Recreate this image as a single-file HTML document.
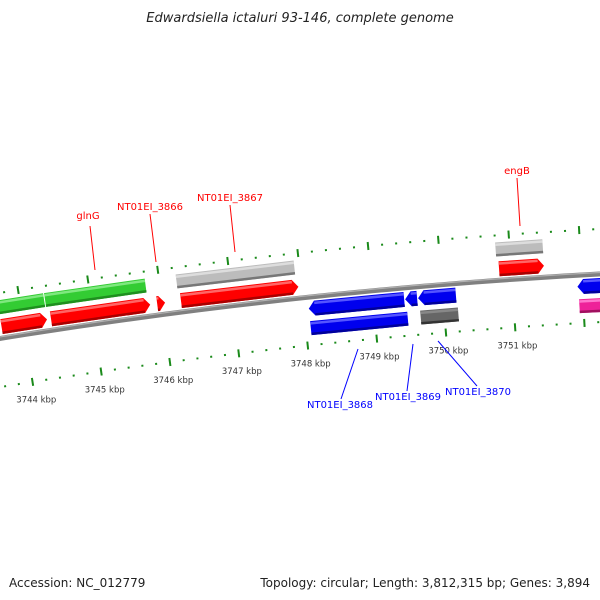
<!DOCTYPE html>
<html><head><meta charset="utf-8"><style>
html,body{margin:0;padding:0;background:#fff;}
svg{display:block;}
text{font-family:"DejaVu Sans","Liberation Sans",sans-serif;}
</style></head><body>
<svg id="map" width="600" height="600" viewBox="0 0 600 600" xmlns="http://www.w3.org/2000/svg">
<text x="300" y="22" text-anchor="middle" font-size="13" font-style="italic" fill="#222">Edwardsiella ictaluri 93-146, complete genome</text>
<text x="9" y="587" font-size="12" fill="#222">Accession: NC_012779</text>
<text x="590" y="587" text-anchor="end" font-size="12" fill="#222">Topology: circular; Length: 3,812,315 bp; Genes: 3,894</text>
<g id="ticks"></g><g id="feats"></g><g id="labels"></g>
</svg>
<script>
// data (kbp)
const tickStarts = [3743.6];
const tickEnd = 3752.4;
const tickLabelKbp = [3744,3745,3746,3747,3748,3749,3750,3751];
// features: [start, end, track, color, arrow]
const featStarts = [3743.686,3744.357,3743.686,3744.4,3745.929,3746.243,3746.271,3750.8,3750.829,3748.071,3748.071,3749.457,3749.643,3749.657,3751.93,3751.943];
const featEnds   = [3744.343,3745.8,3744.343,3745.829,3746.043,3747.929,3747.957,3751.471,3751.471,3749.443,3749.471,3749.629,3750.186,3750.2,3752.5,3752.5];
const featTracks = ['cdsF','cdsF','geneF','geneF','geneF','cdsF','geneF','cdsF','geneF','geneR','cdsR','geneR','geneR','cdsR','geneR','cdsR'];
const featColors = ['green','green','red','red','red','gray','red','gray','red','blue','blue','blue','blue','dgray','blue','magenta'];
const featArrows = [0,0,1,1,1,0,1,0,1,-1,0,-1,-1,0,-1,0];
const labelNames = ['glnG','NT01EI_3866','NT01EI_3867','engB','NT01EI_3868','NT01EI_3869','NT01EI_3870'];
const labelFeatKbp = [3745.1,3745.93,3747.0,3751.1,3748.9,3749.55,3749.93];

const CX=900, CY=5891, R=5625, TH0=Math.asin((442-900)/5625), K=70/R;
function pt(kbp,off){const t=TH0+(kbp-3750)*K,r=R+off;return [CX+r*Math.sin(t),CY-r*Math.cos(t)];}
const NS='http://www.w3.org/2000/svg';
function mk(tag,attrs,parent){const e=document.createElementNS(NS,tag);for(const k in attrs)e.setAttribute(k,attrs[k]);parent.appendChild(e);return e;}
const gT=document.getElementById('ticks'),gF=document.getElementById('feats'),gL=document.getElementById('labels');

// backbone
function arcPath(off,a,b){let d='';for(let i=0;i<=40;i++){const p=pt(a+(b-a)*i/40,off);d+=(i?'L':'M')+p[0].toFixed(2)+','+p[1].toFixed(2);}return d;}
let bb=mk('path',{d:arcPath(0,3743,3753),stroke:'#808080','stroke-width':5,fill:'none'},gT);


let bbh=mk('path',{d:arcPath(1.5,3743,3753),stroke:'#b0b0b0','stroke-width':1.2,fill:'none'},gT);



// ticks
for(let i=0;;i++){const kb=tickStarts[0]+i*0.2; if(kb>tickEnd)break;
  const major=Math.abs(kb-Math.round(kb))<0.01;
  [45,-48].forEach(off=>{
    const hl=major?4:1; const a=pt(kb,off-hl),b=pt(kb,off+hl);
    const l=mk('line',{x1:a[0],y1:a[1],x2:b[0],y2:b[1],stroke:'#1a8a1a','stroke-width':2},gT);
    
    
  });
}
tickLabelKbp.forEach(kb=>{const p=pt(kb,-66);
  const t=mk('text',{x:p[0]+1,y:p[1]+3,'text-anchor':'middle','font-size':'8.5',fill:'#333'},gT);
  t.textContent=kb+' kbp';
  
  
});

// features
const COL={green:['#33cc33','#7fe87f','#1f8f1f'],red:['#ff0000','#ff6666','#aa0000'],gray:['#bcbcbc','#dddddd','#777777'],blue:['#0000ee','#5555ff','#00009a'],dgray:['#666666','#888888','#333333'],magenta:['#ee2299','#ff77cc','#a0105f']};
const TR={geneF:[4,19],cdsF:[24,38],geneR:[-19,-4],cdsR:[-38,-24]};
featStarts.forEach((s,i)=>{
  const e=featEnds[i],[o1,o2]=TR[featTracks[i]],c=COL[featColors[i]],ar=featArrows[i],h=6/70,m=(o1+o2)/2;
  let P=[];
  if(ar===1){P=[pt(s,o1),pt(Math.max(s,e-h),o1),pt(e,m),pt(Math.max(s,e-h),o2),pt(s,o2)];}
  else if(ar===-1){P=[pt(e,o1),pt(Math.min(e,s+h),o1),pt(s,m),pt(Math.min(e,s+h),o2),pt(e,o2)];}
  else{P=[pt(s,o1),pt(e,o1),pt(e,o2),pt(s,o2)];}
  const g=mk('g',{},gF);
  
  
  mk('polygon',{points:P.map(p=>p.join(',')).join(' '),fill:c[0]},g);
  // dark lower edge and light upper edge
  const hs=ar===-1?Math.min(e,s+h):s, he=ar===1?Math.max(s,e-h):e;
  const lo=[pt(hs,o1),pt(he,o1),pt(he,o1+2.5),pt(hs,o1+2.5)];
  mk('polygon',{points:lo.map(p=>p.join(',')).join(' '),fill:c[2]},g);
  const hi=[pt(hs,o2-3.5),pt(he,o2-3.5),pt(he,o2-1),pt(hs,o2-1)];
  mk('polygon',{points:hi.map(p=>p.join(',')).join(' '),fill:c[1]},g);
});

// labels (text anchor positions are layout)
const LP=[[88,219,90,226,95,270,'red'],[150,210,150,214,156,262,'red'],[230,201,230,205,235,252,'red'],[517,174,517,178,520,226,'red'],[340,408,341,399,358,349,'blue'],[408,400,407,391,413,344,'blue'],[478,395,477,386,438,341,'blue']];
labelNames.forEach((n,i)=>{const L=LP[i];
  const ln=mk('line',{x1:L[2],y1:L[3],x2:L[4],y2:L[5],stroke:L[6]==='red'?'#ff0000':'#0000ff','stroke-width':1},gL);
  
  
  const t=mk('text',{x:L[0],y:L[1],'text-anchor':'middle','font-size':'10',fill:L[6]==='red'?'#ff0000':'#0000ff'},gL);
  t.textContent=n;
  
  
});
</script>
</body></html>
